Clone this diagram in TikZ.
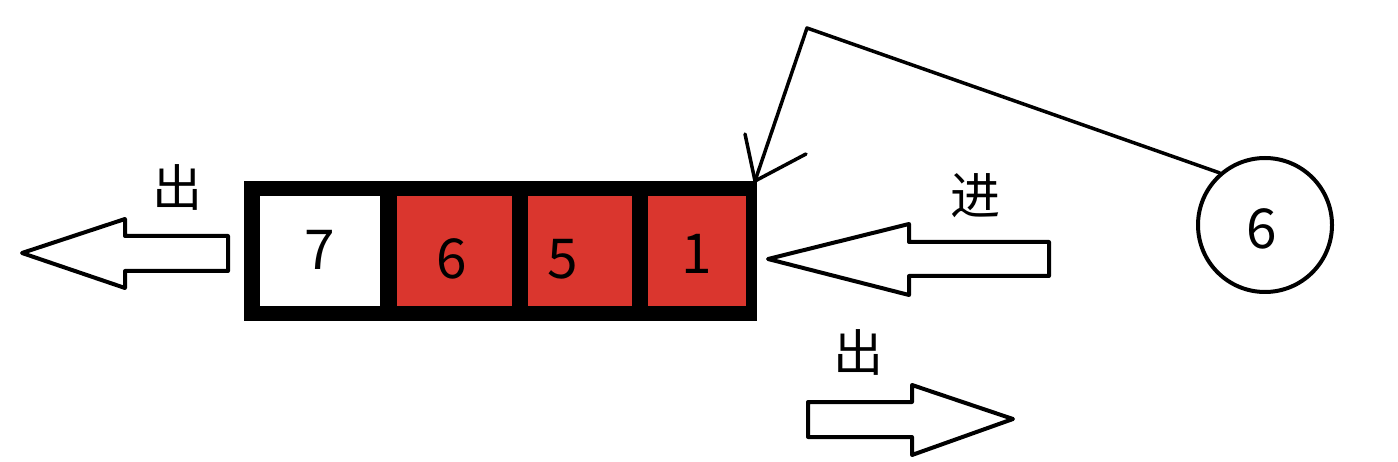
\documentclass[tikz,border=0pt]{standalone}
\usepackage{fontspec}
\setmainfont{Noto Sans CJK SC}
\definecolor{cellred}{RGB}{218,54,46}
\begin{document}
\begin{tikzpicture}[x=1pt,y=-1pt,
  cell/.style={draw=none,inner sep=0pt,minimum height=110pt},
  digit/.style={inner sep=0pt,font=\fontsize{55}{60}\selectfont},
  hanzi/.style={inner sep=0pt,font=\fontsize{50}{56}\selectfont},
  bigarrow/.style={draw=black,fill=white,line width=4pt,line join=round},
  thin/.style={line width=3.5pt,line join=round,line cap=round}]
\useasboundingbox (0,0) rectangle (1398,462);
% queue frame
\node[fill=black,inner sep=0pt,minimum width=513pt,minimum height=140pt] (q) at (500.5,251) {};
\node[cell,fill=white,minimum width=120pt] (c7) at (320,251) {};
\node[cell,fill=cellred,minimum width=115pt] (c6) at (454.5,251) {};
\node[cell,fill=cellred,minimum width=104pt] (c5) at (580,251) {};
\node[cell,fill=cellred,minimum width=98pt] (c1) at (697,251) {};
\node[digit] (t7) at (320,250) {7};
\node[digit] (t6) at (452,259) {6};
\node[digit] (t5) at (563,259) {5};
\node[digit] (t1) at (697,254) {1};
% left out arrow
\draw[bigarrow] (228,236) -- (125,236) -- (125,219) -- (22,253) -- (125,288) -- (125,271) -- (228,271) -- cycle;
\node[hanzi] (out1) at (177,187) {出};
% right in arrow
\draw[bigarrow] (1049,242) -- (909,242) -- (909,224) -- (768,259) -- (909,295) -- (909,276) -- (1049,276) -- cycle;
\node[hanzi] (in1) at (975,196) {进};
% bottom out arrow
\draw[bigarrow] (808,402) -- (912,402) -- (912,385) -- (1013,419) -- (912,455) -- (912,437) -- (808,437) -- cycle;
\node[hanzi] (out2) at (858,352) {出};
% circle
\node[draw,circle,line width=4pt,minimum size=134pt,inner sep=0pt] (c) at (1265,225) {};
\node[digit] (tc) at (1262,229) {6};
% connector
\coordinate (tip) at (755,181);
\draw[thin] (c.131) -- (807,28) -- (tip);
\draw[thin] (tip) -- ++(-10,-47);
\draw[thin] (tip) -- ++(51,-27);
\end{tikzpicture}
\end{document}
